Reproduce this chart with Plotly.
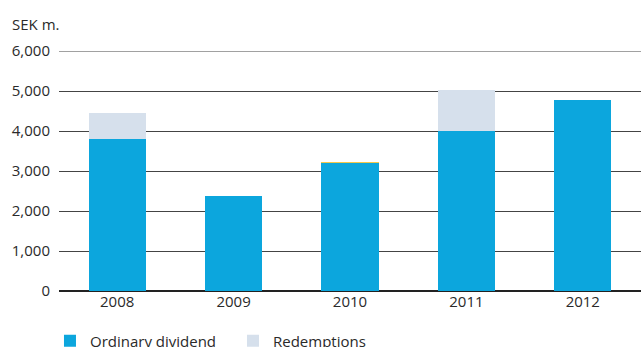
import plotly.graph_objects as go

years = ["2008", "2009", "2010", "2011", "2012"]
ordinary = [3800, 2375, 3200, 4000, 4775]
redemptions = [650, 0, 0, 1025, 0]
extra = [0, 0, 20, 0, 0]
y_ticks = [0, 1000, 2000, 3000, 4000, 5000, 6000]
y_tick_labels = ["0", "1,000", "2,000", "3,000", "4,000", "5,000", "6,000"]

fig = go.Figure()
fig.add_trace(go.Bar(x=years, y=ordinary, name="Ordinary dividend",
                     marker=dict(color="#0ca6dd", line=dict(width=0))))
fig.add_trace(go.Bar(x=years, y=extra, name="Extra", showlegend=False,
                     marker=dict(color="#f3c94b", line=dict(width=0))))
fig.add_trace(go.Bar(x=years, y=redemptions, name="Redemptions",
                     marker=dict(color="#d6e0ec", line=dict(width=0))))

# top gridline (plotly omits the gridline lying on the plot edge)
fig.add_shape(type="line", xref="paper", yref="y", x0=0, x1=1,
              y0=y_ticks[-1], y1=y_ticks[-1], line=dict(color="#444444", width=1),
              layer="below")

fig.update_layout(
    barmode="stack",
    bargap=0.51,
    width=641, height=347,
    margin=dict(l=59, r=0, t=51, b=56, autoexpand=False),
    paper_bgcolor="white", plot_bgcolor="white",
    font=dict(family="Open Sans, sans-serif", size=15, color="#2a2a2a"),
    showlegend=True,
    legend=dict(orientation="h", traceorder="normal", x=-0.0155, xanchor="left",
                y=-0.14, yanchor="top",
                font=dict(size=15, color="#2a2a2a"), entrywidth=138,
                bgcolor="rgba(0,0,0,0)"),
    xaxis=dict(showgrid=False, ticks="", showline=False, automargin=False,
               tickfont=dict(size=15)),
    yaxis=dict(range=[0, 6000], tickvals=y_ticks, ticktext=y_tick_labels,
               showgrid=True, gridcolor="#444444", gridwidth=1,
               zeroline=True, zerolinecolor="#222222", zerolinewidth=2,
               ticks="", ticklabelstandoff=8, showline=False, automargin=False,
               tickfont=dict(size=15)),
    annotations=[dict(text="SEK m.", xref="paper", yref="paper", x=-0.084, y=1.1125,
                      xanchor="left", yanchor="middle", showarrow=False,
                      font=dict(size=15, color="#2a2a2a"))],
)

fig.write_html("out.html", config={"displayModeBar": False},
               post_script="document.body.style.margin='0';")
